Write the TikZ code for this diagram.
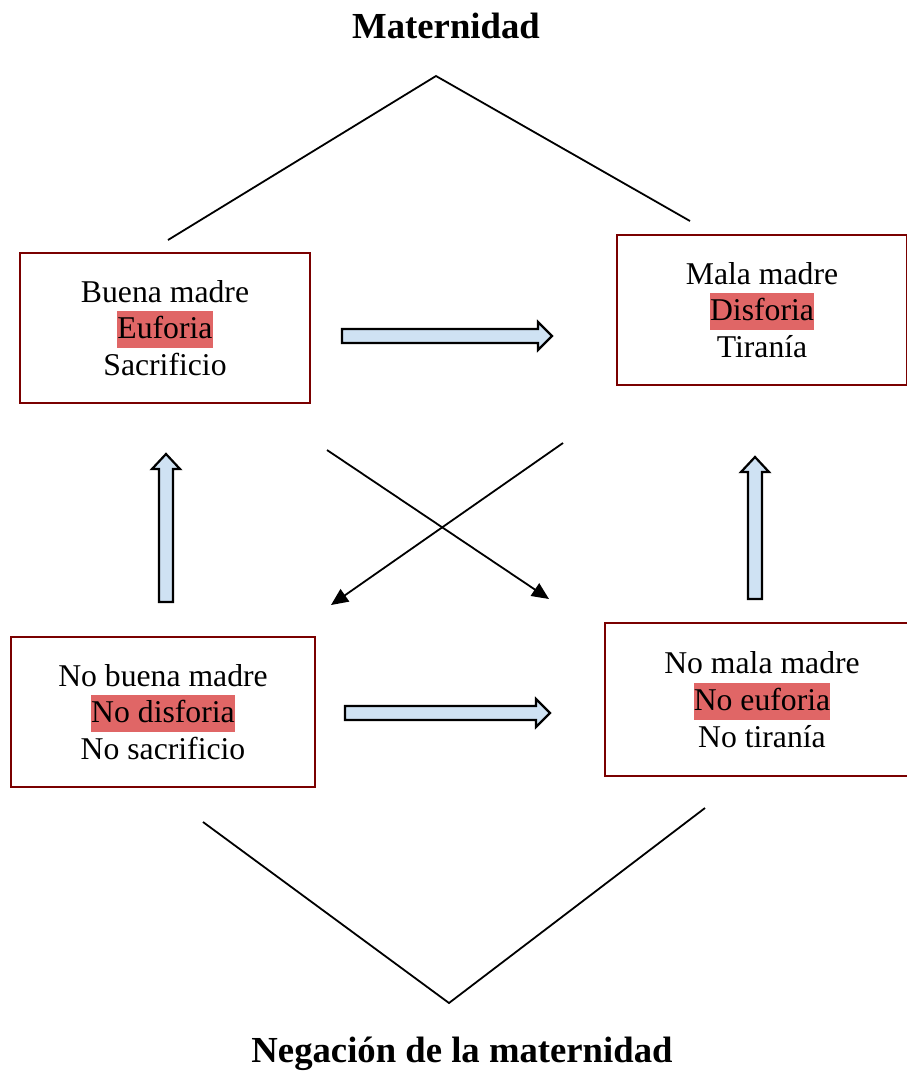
\documentclass[tikz,border=0pt]{standalone}
\usepackage{fontspec}
\setmainfont{Liberation Serif}
\usetikzlibrary{arrows.meta}
\definecolor{boxred}{RGB}{122,0,0}
\definecolor{hlred}{RGB}{224,102,102}
\definecolor{arrowblue}{RGB}{207,226,243}
\newcommand{\hlbox}[1]{{\setlength{\fboxsep}{0pt}\colorbox{hlred}{\rule[-9.3pt]{0pt}{37pt}#1}}}
\begin{document}
\begin{tikzpicture}[x=1pt,y=-1pt,
  box/.style={draw=boxred,line width=2pt,rectangle,inner sep=0pt,anchor=north west},
  txt/.style={align=center,font=\fontsize{31.7}{36.8}\selectfont,inner sep=0pt},
  thinline/.style={line width=1.8pt},
  crossarrow/.style={line width=1.8pt,-{Triangle[length=17pt,width=15pt]}},
  blockarrow/.style={draw=black,fill=arrowblue,line width=2.2pt,line join=miter},
  title/.style={font=\fontsize{36.7}{40}\selectfont\bfseries,anchor=base,inner sep=0pt}]
\useasboundingbox (0,0) rectangle (907,1072);

% titles
\node[title] (mat) at (446,38) {Maternidad};
\node[title] (neg) at (462,1062) {Negación de la maternidad};

% boxes
\node[box,minimum width=290pt,minimum height=150pt] (bm) at (19,252) {};
\node[txt] (bmt) at (bm.center) {Buena madre\\\hlbox{Euforia}\\Sacrificio};

\node[box,minimum width=290pt,minimum height=150pt] (mm) at (616,234) {};
\node[txt] (mmt) at (mm.center) {Mala madre\\\hlbox{Disforia}\\Tiranía};

\node[box,minimum width=304pt,minimum height=150pt] (nbm) at (10,636) {};
\node[txt] (nbmt) at (nbm.center) {No buena madre\\\hlbox{No disforia}\\No sacrificio};

\node[box,minimum width=314pt,minimum height=153pt] (nmm) at (604,622) {};
\node[txt] (nmmt) at (nmm.center) {No mala madre\\\hlbox{No euforia}\\No tiranía};

% top and bottom chevrons
\coordinate (t1) at (168,240);
\coordinate (tapex) at (436,76);
\coordinate (t2) at (690,221);
\draw[thinline] (t1) -- (tapex) -- (t2);
\coordinate (b1) at (203,822);
\coordinate (bapex) at (449,1003);
\coordinate (b2) at (705,808);
\draw[thinline] (b1) -- (bapex) -- (b2);

% crossing arrows
\coordinate (c1s) at (327,450);
\coordinate (c1e) at (549,599);
\coordinate (c2s) at (563,443);
\coordinate (c2e) at (331,605);
\draw[crossarrow] (c1s) -- (c1e);
\draw[crossarrow] (c2s) -- (c2e);

% block arrows
\draw[blockarrow] (342,329) -- (538,329) -- (538,322) -- (552,336) -- (538,350) -- (538,343) -- (342,343) -- cycle;
\draw[blockarrow] (345,706) -- (536,706) -- (536,699) -- (550,713) -- (536,727) -- (536,720) -- (345,720) -- cycle;
\draw[blockarrow] (159,602) -- (159,469) -- (152,469) -- (166,454) -- (180,469) -- (173,469) -- (173,602) -- cycle;
\draw[blockarrow] (748,599) -- (748,472) -- (741,472) -- (755,457) -- (769,472) -- (762,472) -- (762,599) -- cycle;
\end{tikzpicture}
\end{document}
